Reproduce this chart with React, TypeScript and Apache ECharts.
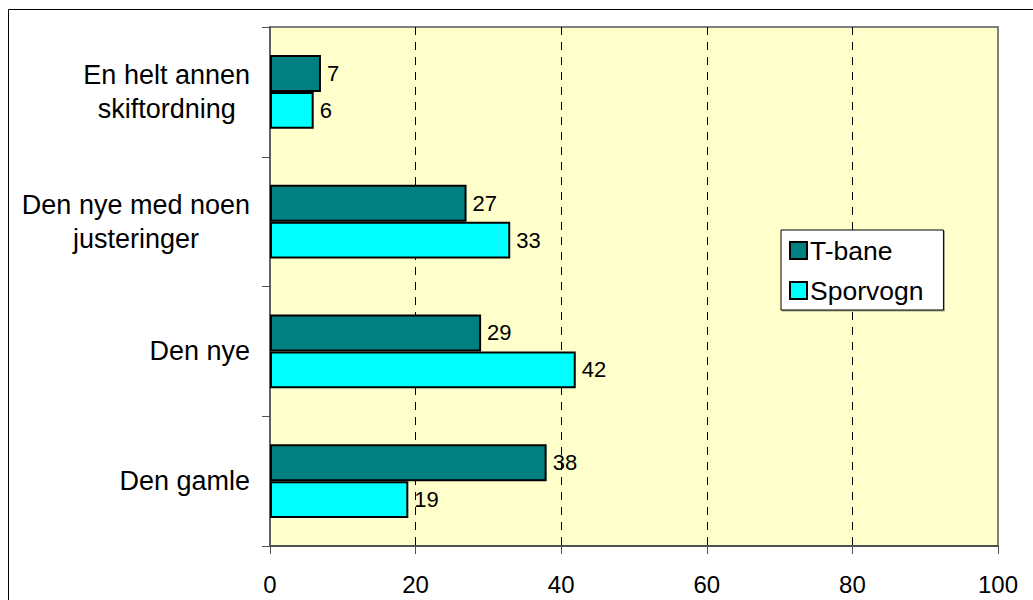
import React, { useEffect, useRef } from "react";
import * as echarts from "echarts";

// Categories listed bottom to top, as the value axis runs along x
const categories = [
  "Den gamle",
  "Den nye",
  "Den nye med noen\njusteringer",
  "En helt annen\nskiftordning",
];
const tBane = [38, 29, 27, 7];
const sporvogn = [19, 42, 33, 6];
const xTicks = [0, 20, 40, 60, 80, 100];

const FONT = "'Liberation Sans', Arial, sans-serif";

export default function App() {
  const ref = useRef<HTMLDivElement>(null);

  useEffect(() => {
    if (!ref.current) return;
    const chart = echarts.init(ref.current, undefined, { renderer: "svg" });

    const valueLabel = {
      show: true,
      position: "right" as const,
      distance: 6,
      color: "#000",
      fontFamily: FONT,
      fontSize: 22,
    };

    chart.setOption({
      animation: false,
      backgroundColor: "#fff",
      textStyle: { fontFamily: FONT },
      graphic: [
        {
          type: "rect",
          shape: { x: 8.5, y: 9.5, width: 1100, height: 700 },
          style: { fill: "none", stroke: "#000", lineWidth: 1 },
          silent: true,
          z: -1,
        },
      ],
      grid: {
        left: 270,
        top: 27,
        width: 728,
        height: 519,
        show: true,
        backgroundColor: "#FFFFCC",
        borderColor: "#808080",
        borderWidth: 2,
      },
      legend: {
        orient: "vertical",
        left: 781,
        top: 230,
        data: ["T-bane", "Sporvogn"],
        backgroundColor: "#fff",
        borderColor: "#000",
        borderWidth: 1,
        shadowColor: "rgba(0,0,0,0.35)",
        shadowOffsetX: 1,
        shadowOffsetY: 1,
        padding: [7, 20, 6, 8],
        itemGap: 13,
        itemWidth: 17,
        itemHeight: 17,
        icon: "rect",
        textStyle: { fontFamily: FONT, fontSize: 26.5, color: "#000", padding: [0, 0, 0, -2] },
      },
      xAxis: {
        type: "value",
        min: xTicks[0],
        max: xTicks[xTicks.length - 1],
        interval: xTicks[1] - xTicks[0],
        axisLine: { show: true, lineStyle: { color: "#505050", width: 2 } },
        axisTick: { show: true, length: 8, lineStyle: { color: "#505050", width: 1 } },
        axisLabel: { color: "#000", fontFamily: FONT, fontSize: 24, margin: 26 },
        splitLine: {
          show: true,
          showMinLine: false,
          showMaxLine: false,
          lineStyle: { color: "#000", type: [8, 7], width: 1 },
        },
      },
      yAxis: {
        type: "category",
        data: categories,
        axisLine: { show: true, lineStyle: { color: "#606060", width: 2 } },
        axisTick: { show: true, length: 8, lineStyle: { color: "#505050", width: 1 } },
        axisLabel: {
          color: "#000",
          fontFamily: FONT,
          fontSize: 27,
          lineHeight: 34,
          margin: 20,
          align: "right",
          formatter: (v: string) =>
            v
              .split("\n")
              .map((line) => `{c|${line}}`)
              .join("\n"),
          rich: {
            c: { align: "center", fontFamily: FONT, fontSize: 27, lineHeight: 34, color: "#000" },
          },
        },
      },
      series: [
        {
          name: "T-bane",
          type: "bar",
          data: tBane,
          barGap: "0%",
          barCategoryGap: "43%",
          itemStyle: { color: "#008080", borderColor: "#000", borderWidth: 2 },
          label: valueLabel,
        },
        {
          name: "Sporvogn",
          type: "bar",
          data: sporvogn,
          barGap: "0%",
          barCategoryGap: "43%",
          itemStyle: { color: "#00FFFF", borderColor: "#000", borderWidth: 2 },
          label: valueLabel,
        },
      ],
    });

    return () => chart.dispose();
  }, []);

  return (
    <div
      ref={ref}
      style={{ position: "absolute", left: 0, top: 0, width: 1033, height: 600 }}
    />
  );
}
